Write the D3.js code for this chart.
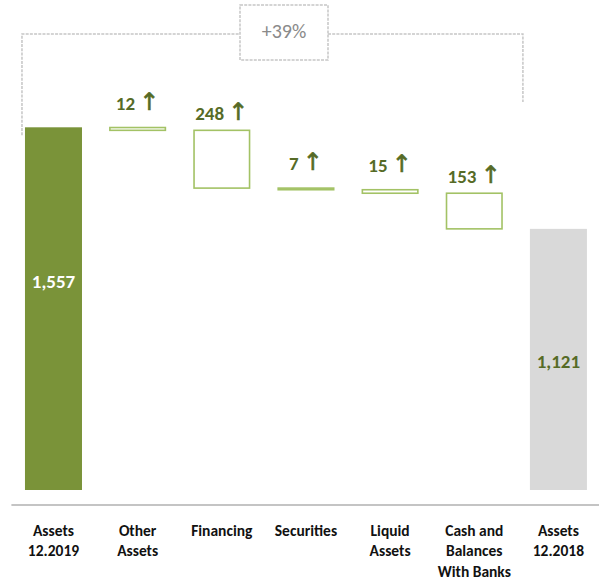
<!DOCTYPE html>
<html>
<head>
<meta charset="utf-8">
<script src="https://cdn.jsdelivr.net/npm/d3@7"></script>
<style>
  html, body { margin: 0; padding: 0; background: #fff; }
  svg { display: block; }
</style>
</head>
<body>
<svg id="chart" width="599" height="582"></svg>
<script>
// Balance sheet bridge: total assets 12.2018 -> 12.2019 (right to left)
const categories = [
  ["Assets", "12.2019"],
  ["Other", "Assets"],
  ["Financing"],
  ["Securities"],
  ["Liquid", "Assets"],
  ["Cash and", "Balances", "With Banks"],
  ["Assets", "12.2018"]
];
const startTotal = 1121;          // Assets 12.2018
const endTotal = 1557;            // Assets 12.2019
// increases, in left-to-right order of the middle categories
const increases = [12, 248, 7, 15, 153];
const changeLabel = "+39%";

const W = 599, H = 582;
const svg = d3.select("#chart");

const green = "#7a9339";
const lightGreen = "#a3c265";
const darkGreen = "#566b26";
const grey = "#d9d9d9";

const x = d3.scaleBand()
  .domain(d3.range(categories.length))
  .range([11.4, 600.5])
  .paddingInner(0.3226)
  .paddingOuter(0.1613);

const y = d3.scaleLinear().domain([0, endTotal]).range([490, 127.3]);

// stack the increases upward starting from the 12.2018 total, right to left
const steps = [];
let running = startTotal;
for (let i = increases.length - 1; i >= 0; i--) {
  steps[i] = { idx: i + 1, value: increases[i], base: running, top: running + increases[i] };
  running += increases[i];
}

// axis line
svg.append("line")
  .attr("x1", x.range()[0]).attr("x2", W)
  .attr("y1", 505).attr("y2", 505)
  .attr("stroke", "#c4c4c4").attr("stroke-width", 2);

// total bars
svg.append("rect")
  .attr("x", x(0)).attr("width", x.bandwidth())
  .attr("y", y(endTotal)).attr("height", y(0) - y(endTotal))
  .attr("fill", green);
svg.append("rect")
  .attr("x", x(6)).attr("width", x.bandwidth())
  .attr("y", y(startTotal)).attr("height", y(0) - y(startTotal))
  .attr("fill", grey);

// floating increase boxes
svg.selectAll("rect.step").data(steps).enter().append("rect")
  .attr("class", "step")
  .attr("x", d => x(d.idx) + 0.75)
  .attr("width", x.bandwidth() - 1.5)
  .attr("y", d => y(d.top))
  .attr("height", d => y(d.base) - y(d.top))
  .attr("fill", "#fff")
  .attr("stroke", lightGreen)
  .attr("stroke-width", 1.6);

const labelFont = "Carlito, Calibri, Lato, 'Noto Sans', sans-serif";

// increase labels: number plus an up arrow
const inc = svg.selectAll("text.inc").data(steps).enter().append("text")
  .attr("class", "inc")
  .attr("x", d => x(d.idx) + x.bandwidth() / 2)
  .attr("y", d => y(d.top) - ((y(d.base) - y(d.top)) < 6 ? 18 : 10.5))
  .attr("text-anchor", "middle")
  .attr("font-family", labelFont)
  .attr("font-weight", "bold")
  .attr("font-size", 19)
  .attr("fill", darkGreen);
inc.append("tspan").text(d => d3.format(",")(d.value) + " ");
inc.append("tspan")
  .attr("font-family", "'DejaVu Sans', sans-serif")
  .attr("font-weight", "normal")
  .attr("font-size", 24)
  .attr("stroke", darkGreen)
  .attr("stroke-width", 0.6)
  .text("\u2191");

// total labels
svg.append("text")
  .attr("x", x(0) + x.bandwidth() / 2)
  .attr("y", 288)
  .attr("text-anchor", "middle")
  .attr("font-family", labelFont).attr("font-weight", "bold").attr("font-size", 19)
  .attr("fill", "#fff")
  .text(d3.format(",")(endTotal));
svg.append("text")
  .attr("x", x(6) + x.bandwidth() / 2)
  .attr("y", 367.5)
  .attr("text-anchor", "middle")
  .attr("font-family", labelFont).attr("font-weight", "bold").attr("font-size", 19)
  .attr("fill", darkGreen)
  .text(d3.format(",")(startTotal));

// category labels
const cat = svg.selectAll("text.cat").data(categories).enter().append("text")
  .attr("class", "cat")
  .attr("text-anchor", "middle")
  .attr("font-family", labelFont)
  .attr("font-weight", "bold")
  .attr("font-size", 15.5)
  .attr("fill", "#111");
cat.each(function(lines, i) {
  const t = d3.select(this);
  lines.forEach((ln, j) => {
    t.append("tspan")
      .attr("x", x(i) + x.bandwidth() / 2)
      .attr("y", 535.5 + j * 20.7)
      .text(ln);
  });
});

// growth bracket with dashed outline
const bx0 = x(0) - 3, bx1 = x(6) - 7, by = 34;
const boxL = 240, boxR = 328, boxT = 5, boxB = 60;
const dash = { stroke: "#c6c6c6", "stroke-width": 1.5, "stroke-dasharray": "3,1.2", fill: "none" };
function styled(sel) { Object.entries(dash).forEach(([k, v]) => sel.attr(k, v)); return sel; }
styled(svg.append("path").attr("d", `M${bx0},${y(endTotal) + 8}V${by}H${boxL}`));
styled(svg.append("path").attr("d", `M${boxR},${by}H${bx1}V102`));
styled(svg.append("rect").attr("x", boxL).attr("y", boxT).attr("width", boxR - boxL).attr("height", boxB - boxT));
svg.append("text")
  .attr("x", (boxL + boxR) / 2).attr("y", 38)
  .attr("text-anchor", "middle")
  .attr("font-family", labelFont).attr("font-size", 20)
  .attr("fill", "#8a8a8a")
  .text(changeLabel);
</script>
</body>
</html>
